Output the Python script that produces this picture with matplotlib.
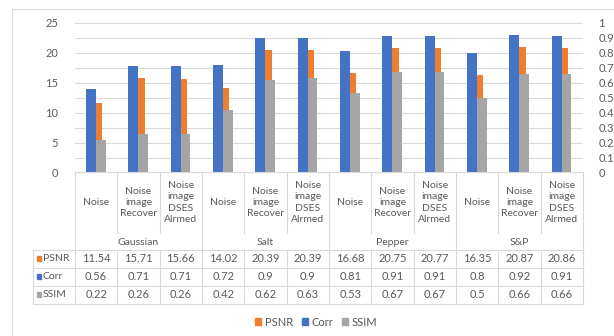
import numpy as np
import matplotlib.pyplot as plt
from matplotlib.lines import Line2D
from matplotlib.patches import Patch

# -------------------------------
# DATOS
# -------------------------------
groups = ['Gaussian', 'Salt', 'Pepper', 'S&P']
subcats = ['Noise', 'Noise\nimage\nRecover', 'Noise\nimage\nDSES\nAlrmed']
series_names = ['PSNR', 'Corr', 'SSIM']

psnr = [11.54, 15.71, 15.66, 14.02, 20.39, 20.39, 16.68, 20.75, 20.77, 16.35, 20.87, 20.86]
corr = [0.56, 0.71, 0.71, 0.72, 0.9, 0.9, 0.81, 0.91, 0.91, 0.8, 0.92, 0.91]
ssim = [0.22, 0.26, 0.26, 0.42, 0.62, 0.63, 0.53, 0.67, 0.67, 0.5, 0.66, 0.66]

left_ticks = [0, 5, 10, 15, 20, 25]
right_ticks = [0, 0.1, 0.2, 0.3, 0.4, 0.5, 0.6, 0.7, 0.8, 0.9, 1]

# -------------------------------
# ESTILO
# -------------------------------
c_psnr = '#ED7D31'
c_corr = '#4472C4'
c_ssim = '#A5A5A5'
c_text = '#595959'
c_line = '#D9D9D9'
fs = 7.5
plt.rcParams['font.family'] = ['Lato', 'DejaVu Sans']

W, H = 614, 336
fig = plt.figure(figsize=(W / 100, H / 100), dpi=100)


def fx(x):
    return x / W


def fy(y):
    return 1 - y / H


# eje en pixeles
x0, x1 = 75, 583
y_top, y_bot = 22.7, 172.5
ax = fig.add_axes([fx(x0), fy(y_bot), fx(x1) - fx(x0), fy(y_top) - fy(y_bot)])
ax2 = ax.twinx()

n = len(psnr)
x = np.arange(n)

ax.bar(x - 0.012, psnr, width=0.155, align='edge', color=c_psnr, zorder=2)
ax2.bar(x - 0.125, corr, width=0.235, color=c_corr, zorder=2)
ax2.bar(x + 0.11, ssim, width=0.235, color=c_ssim, zorder=2)

ax.set_xlim(-0.5, n - 0.5)
ax.set_ylim(0, 25)
ax2.set_ylim(0, 1)
ax.set_yticks(left_ticks)
ax.set_yticks(np.arange(0, 25.1, 2.5), minor=True)
ax.set_yticklabels([str(t) for t in left_ticks])
ax2.set_yticks(right_ticks)
ax2.set_yticklabels(['0' if t == 0 else ('1' if t == 1 else f'{t:g}') for t in right_ticks])
ax.set_xticks([])
ax.grid(True, which='both', axis='y', color=c_line, lw=0.8)
ax.set_axisbelow(True)
for a in (ax, ax2):
    for s in a.spines.values():
        s.set_visible(False)
    a.tick_params(axis='y', which='both', length=0, colors=c_text, labelsize=fs + 0.5)
ax.tick_params(axis='y', pad=12)
ax2.tick_params(axis='y', pad=11)

# -------------------------------
# TABLA DE DATOS
# -------------------------------
cw = (x1 - x0) / n
y_hdr = 232.5
y_grp = 250
row_y = [250, 267.5, 285.5, 304]
x_key = 33


def line(xa, ya, xb, yb):
    fig.add_artist(Line2D([fx(xa), fx(xb)], [fy(ya), fy(yb)], transform=fig.transFigure,
                          color=c_line, lw=0.8))


line(x0, y_bot, x1, y_bot)
for i in range(n + 1):
    xv = x0 + i * cw
    if i % 3 == 0:
        line(xv, y_bot, xv, row_y[-1])
    else:
        line(xv, y_bot, xv, y_hdr)
        line(xv, row_y[0], xv, row_y[-1])
for yv in row_y:
    line(x_key, yv, x1, yv)
line(x_key, row_y[0], x_key, row_y[-1])

# marco del grafico
line(12, 9, 12, H)
line(12, 9, W, 9)

for i in range(n):
    xc = x0 + (i + 0.5) * cw
    fig.text(fx(xc), fy((y_bot + y_hdr) / 2), subcats[i % 3], ha='center', va='center',
             fontsize=fs, color=c_text, linespacing=1.35)
for g, name in enumerate(groups):
    xc = x0 + (3 * g + 1.5) * cw
    fig.text(fx(xc), fy((y_hdr + y_grp) / 2 + 1), name, ha='center', va='center',
             fontsize=fs, color=c_text)

rows = [psnr, corr, ssim]
colors = [c_psnr, c_corr, c_ssim]
for r, vals in enumerate(rows):
    yc = (row_y[r] + row_y[r + 1]) / 2
    fig.patches.append(plt.Rectangle((fx(36.5), fy(yc + 2.3)), fx(4.6), 4.6 / H,
                                     transform=fig.transFigure, color=colors[r], figure=fig))
    fig.text(fx(42.5), fy(yc), series_names[r], ha='left', va='center', fontsize=fs, color=c_text)
    for i, v in enumerate(vals):
        xc = x0 + (i + 0.5) * cw
        fig.text(fx(xc), fy(yc), f'{v:g}', ha='center', va='center', fontsize=fs + 0.5, color=c_text)

# -------------------------------
# LEYENDA
# -------------------------------
handles = [Patch(color=c) for c in colors]
leg = fig.legend(handles, series_names, loc='center', bbox_to_anchor=(fx(316), fy(322)), ncol=3,
                 frameon=False, fontsize=fs + 0.5, handlelength=0.55, handleheight=0.55,
                 handletextpad=0.3, columnspacing=0.8, borderpad=0)
for t in leg.get_texts():
    t.set_color(c_text)

fig.savefig('out.png', dpi=100)
